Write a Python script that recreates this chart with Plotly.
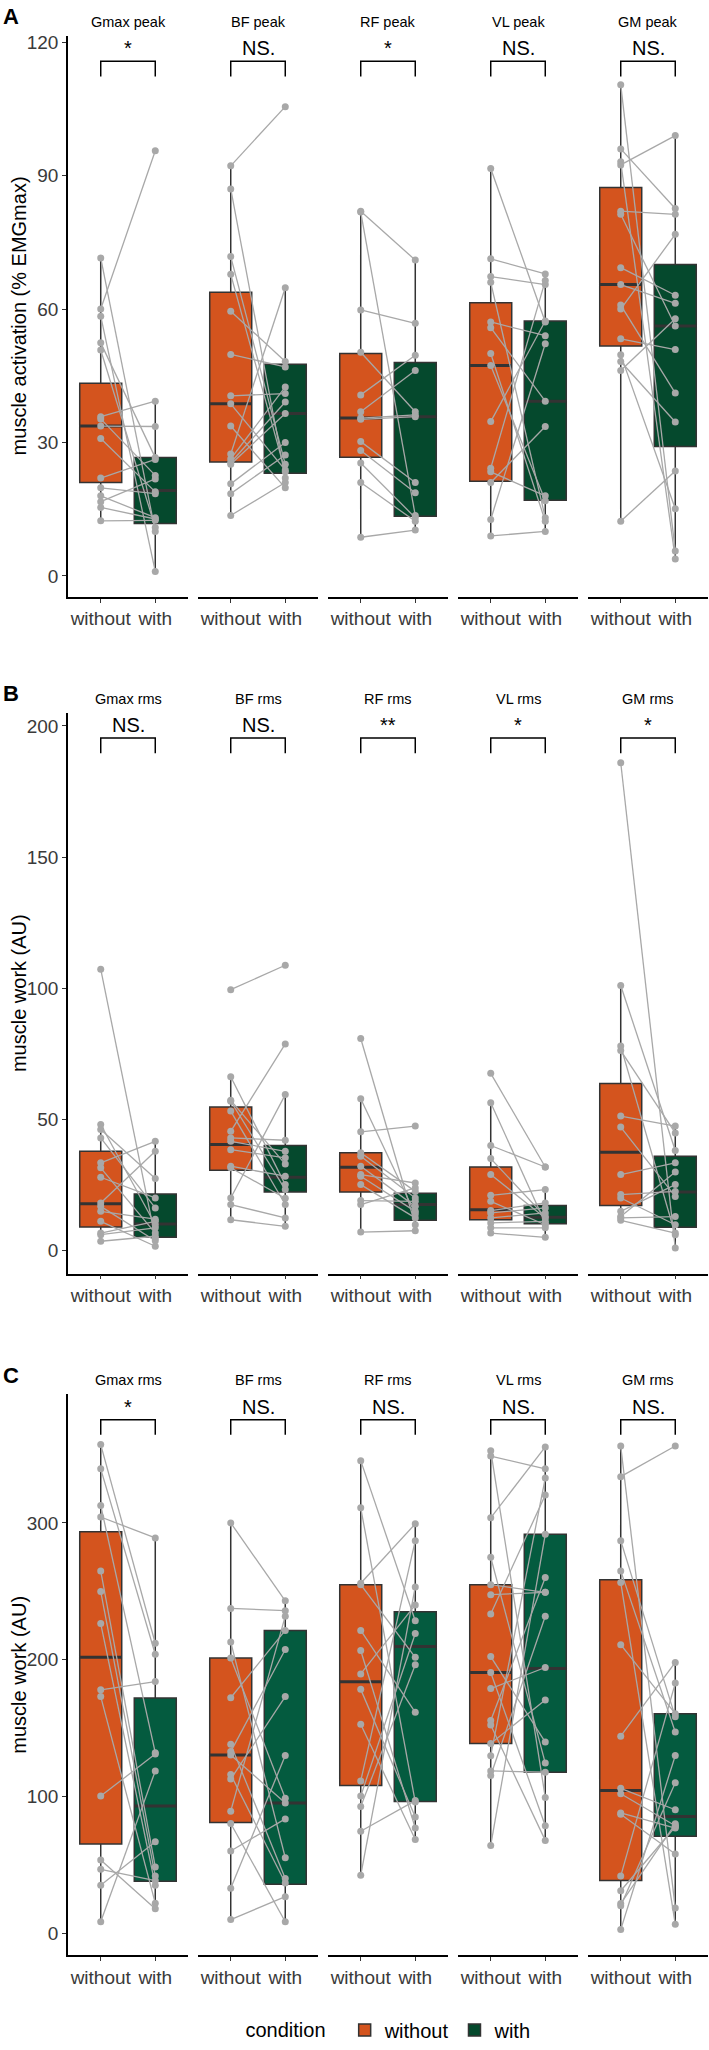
import plotly.graph_objects as go

# ---------------- data ----------------
conditions = ["without", "with"]
strip_A = ["Gmax peak", "BF peak", "RF peak", "VL peak", "GM peak"]
strip_B = ["Gmax rms", "BF rms", "RF rms", "VL rms", "GM rms"]
strip_C = ["Gmax rms", "BF rms", "RF rms", "VL rms", "GM rms"]

sig_A = ["*", "NS.", "*", "NS.", "NS."]
sig_B = ["NS.", "NS.", "**", "*", "*"]
sig_C = ["*", "NS.", "NS.", "NS.", "NS."]

y_title_A = "muscle activation (% EMGmax)"
y_title_B = "muscle work (AU)"
y_title_C = "muscle work (AU)"

ticks_A = [0, 30, 60, 90, 120]
ticks_B = [0, 50, 100, 150, 200]
ticks_C = [0, 100, 200, 300]

# paired subject values (index i of "without" pairs with index i of "with")
A_without = [
    [71.5, 60.0, 58.4, 52.4, 50.8, 35.8, 35.3, 33.7, 30.9, 22.0, 19.8, 18.0, 16.7, 15.4, 12.4],
    [92.2, 87.0, 71.8, 67.8, 59.5, 49.8, 40.5, 38.7, 33.7, 27.4, 26.3, 25.5, 25.1, 20.7, 18.5, 13.6],
    [82.0, 81.8, 59.8, 50.3, 40.7, 36.9, 35.5, 35.2, 30.2, 28.2, 25.4, 21.0, 8.7],
    [91.6, 71.3, 67.3, 66.0, 57.1, 55.8, 50.0, 47.3, 34.7, 24.2, 23.4, 21.0, 12.7, 9.0],
    [110.4, 96.0, 93.1, 92.4, 82.0, 81.3, 69.3, 65.5, 60.9, 60.0, 53.3, 49.7, 48.2, 46.2, 12.3],
]
A_with = [
    [10.0, 95.6, 1.0, 26.6, 10.9, 39.3, 22.6, 33.6, 18.9, 26.2, 18.5, 13.1, 21.8, 12.8, 12.5],
    [105.5, 22.0, 25.1, 23.4, 48.2, 47.0, 41.0, 23.8, 19.8, 64.8, 42.5, 39.1, 36.5, 30.0, 27.2, 21.0],
    [71.0, 13.6, 56.8, 36.9, 49.6, 46.2, 36.2, 35.8, 21.0, 18.7, 13.1, 12.3, 10.3],
    [57.1, 67.9, 65.5, 13.1, 54.0, 39.3, 12.3, 16.9, 57.3, 66.4, 18.0, 33.6, 52.2, 10.0],
    [5.6, 82.6, 3.8, 99.0, 81.3, 56.2, 63.1, 61.3, 41.1, 76.8, 50.9, 15.1, 34.6, 57.8, 23.6],
]
B_without = [
    [107.3, 48.1, 46.2, 43.0, 33.5, 31.6, 28.0, 18.2, 16.9, 15.0, 11.2, 6.7, 6.1, 3.6],
    [99.5, 66.3, 57.3, 57.0, 53.2, 45.5, 43.0, 41.7, 38.5, 32.2, 31.6, 20.1, 17.6, 11.8],
    [80.9, 57.9, 45.3, 37.3, 36.0, 32.2, 29.0, 28.4, 25.2, 19.1, 17.6, 7.1],
    [67.6, 56.4, 40.1, 35.1, 29.0, 21.1, 18.8, 15.3, 14.4, 12.5, 10.6, 8.7, 6.7],
    [186.0, 101.1, 78.0, 76.3, 51.3, 47.1, 29.0, 21.4, 20.1, 15.0, 13.0, 12.5, 11.6],
]
B_with = [
    [4.8, 9.9, 27.5, 16.3, 41.7, 6.7, 20.1, 37.9, 3.8, 12.0, 1.7, 11.2, 8.7, 5.5],
    [108.8, 25.2, 33.0, 23.3, 17.6, 78.8, 42.1, 37.9, 35.4, 28.4, 20.0, 59.5, 12.5, 9.3],
    [9.9, 14.0, 47.5, 22.6, 20.1, 16.9, 25.8, 15.0, 12.5, 18.8, 23.9, 7.6],
    [31.9, 10.5, 31.9, 13.0, 12.5, 23.3, 9.9, 18.2, 16.3, 14.4, 11.2, 8.7, 5.1],
    [1.0, 38.2, 6.1, 44.9, 47.5, 20.7, 33.5, 22.6, 9.9, 25.2, 30.0, 13.0, 6.7],
]
C_without = [
    [357.2, 339.5, 312.7, 304.3, 264.9, 249.8, 226.4, 178.0, 173.0, 100.3, 53.5, 46.8, 35.1, 8.4],
    [300.0, 237.5, 213.0, 201.3, 172.2, 138.1, 132.8, 130.4, 116.0, 112.7, 89.3, 80.3, 60.2, 33.0, 10.0],
    [345.5, 311.0, 255.9, 254.8, 221.4, 206.7, 189.6, 178.3, 152.8, 111.4, 100.3, 92.6, 74.6, 42.5],
    [352.8, 348.8, 303.7, 274.9, 254.8, 247.5, 233.4, 202.3, 190.6, 178.9, 155.5, 152.2, 138.8, 129.8, 118.7, 115.4, 64.2],
    [356.2, 333.8, 287.0, 264.9, 256.5, 211.0, 144.1, 106.0, 102.0, 88.0, 87.0, 41.8, 31.1, 21.7, 20.1, 2.7],
]
C_with = [
    [212.0, 204.0, 132.0, 289.0, 48.5, 41.8, 35.1, 184.0, 22.0, 131.0, 18.0, 38.5, 66.9, 118.7],
    [243.0, 235.8, 55.2, 98.7, 221.4, 40.1, 207.4, 95.3, 36.8, 173.0, 231.8, 8.4, 83.6, 130.0, 26.8],
    [228.4, 96.0, 299.3, 201.7, 161.5, 76.9, 240.0, 85.0, 68.6, 287.0, 219.1, 196.3, 97.0, 253.2],
    [99.3, 339.5, 355.5, 124.4, 249.2, 249.2, 320.4, 139.8, 78.6, 194.3, 260.0, 67.9, 170.6, 332.8, 117.7, 231.8, 291.6],
    [18.4, 356.2, 158.2, 147.2, 6.7, 160.5, 198.0, 90.3, 78.6, 76.9, 57.9, 182.9, 77.9, 80.0, 110.0, 130.0],
]

# box statistics: [q1, median, q3, lower whisker, upper whisker]
A_box_without = [[21.0, 33.7, 43.3, 12.4, 71.5], [25.6, 38.7, 63.8, 13.6, 92.2], [26.7, 35.5, 50.0, 8.7, 81.8],
                 [21.3, 47.3, 61.4, 9.0, 91.6], [51.7, 65.5, 87.3, 12.3, 110.4]]
A_box_with = [[11.8, 19.2, 26.6, 1.0, 39.3], [23.1, 36.5, 47.6, 19.8, 64.8], [13.4, 35.8, 48.0, 10.3, 71.0],
              [17.0, 39.3, 57.3, 10.0, 67.9], [29.1, 56.2, 70.0, 3.8, 99.0]]
B_box_without = [[9.0, 17.9, 37.9, 3.6, 48.1], [30.7, 40.5, 54.8, 11.8, 66.3], [22.4, 31.8, 37.3, 7.1, 57.9],
                 [11.8, 15.6, 31.9, 6.7, 56.4], [17.2, 37.5, 63.7, 11.6, 101.1]]
B_box_with = [[5.1, 10.2, 21.6, 1.7, 41.7], [22.4, 28.0, 40.1, 9.3, 59.5], [11.6, 17.6, 21.9, 7.6, 25.8],
              [10.3, 12.7, 17.2, 5.1, 23.3], [8.9, 22.4, 36.0, 1.0, 47.5]]
C_box_without = [[65.2, 201.7, 293.6, 8.4, 357.2], [81.0, 130.4, 201.3, 10.0, 300.0], [108.0, 183.9, 254.8, 42.5, 345.5],
                 [138.8, 190.6, 254.8, 64.2, 352.8], [38.5, 104.3, 258.5, 2.7, 356.2]]
C_box_with = [[38.0, 93.0, 172.0, 18.0, 289.0], [35.8, 95.3, 221.4, 8.4, 243.0], [96.3, 209.7, 235.1, 68.6, 299.3],
              [117.7, 193.6, 291.6, 67.9, 355.5], [70.9, 85.3, 160.5, 6.7, 198.0]]

# significance bracket levels [bottom, top]
bracket_A = [112.3, 115.7]
bracket_B = [189.6, 195.4]
bracket_C = [364.5, 375.3]

# ---------------- styling / layout ----------------
W, H = 709, 2050
FONT = "Liberation Sans, Arial, sans-serif"
ORANGE = "#D4541E"
GREENS = ["#05492D", "#05492D", "#045B3F"]
GREY = "#A8A8A8"
DARK = "#333333"
BOX_W = 0.77

panels = [
    dict(letter="A", strips=strip_A, sig=sig_A, ytitle=y_title_A, ticks=ticks_A,
         wo=A_without, wi=A_with, bwo=A_box_without, bwi=A_box_with, br=bracket_A,
         yr=[-4.7, 121.4], top=32, bot=594),
    dict(letter="B", strips=strip_B, sig=sig_B, ytitle=y_title_B, ticks=ticks_B,
         wo=B_without, wi=B_with, bwo=B_box_without, bwi=B_box_with, br=bracket_B,
         yr=[-8.7, 205.1], top=710, bot=1272),
    dict(letter="C", strips=strip_C, sig=sig_C, ytitle=y_title_C, ticks=ticks_C,
         wo=C_without, wi=C_with, bwo=C_box_without, bwi=C_box_with, br=bracket_C,
         yr=[-16.0, 394.0], top=1393, bot=1955),
]


def py(px):
    return 1 - px / H


def px_x(px):
    return px / W


fig = go.Figure()
layout = dict(width=W, height=H, margin=dict(l=0, r=0, t=0, b=0),
              paper_bgcolor="white", plot_bgcolor="white",
              font=dict(family=FONT, color="black"),
              showlegend=True)
annotations = []
shapes = []

for r, p in enumerate(panels):
    green = GREENS[r]
    for c in range(5):
        k = r * 5 + c + 1
        xa = "x" if k == 1 else f"x{k}"
        ya = "y" if k == 1 else f"y{k}"
        left = 68 + 130 * c
        right = left + 120
        layout["xaxis" if k == 1 else f"xaxis{k}"] = dict(
            domain=[px_x(left), px_x(right)], range=[0.4, 2.6], anchor=ya,
            tickvals=[1, 2], ticktext=conditions, showline=True, linecolor="black",
            linewidth=1.5, ticks="outside", ticklen=4, tickwidth=1.3, tickcolor=DARK,
            tickfont=dict(size=19, color="#3a3a3a", family=FONT), showgrid=False,
            zeroline=False, fixedrange=True)
        first = c == 0
        layout["yaxis" if k == 1 else f"yaxis{k}"] = dict(
            domain=[py(p["bot"]), py(p["top"])], range=p["yr"], anchor=xa,
            tickvals=p["ticks"] if first else [], showline=first, linecolor="black",
            linewidth=1.5, ticks="outside" if first else "", ticklen=4, tickwidth=1.3,
            tickcolor=DARK, showticklabels=first,
            tickfont=dict(size=19, color="#3a3a3a", family=FONT), showgrid=False,
            zeroline=False, fixedrange=True)

        # boxes
        for pos, stats, col, name in [(1, p["bwo"][c], ORANGE, "without"), (2, p["bwi"][c], green, "with")]:
            q1, med, q3, lo, hi = stats
            fig.add_trace(go.Box(
                x=[pos], q1=[q1], median=[med], q3=[q3], lowerfence=[lo], upperfence=[hi],
                orientation="v", width=BOX_W, fillcolor=col, line=dict(color=DARK, width=1.5),
                whiskerwidth=0, boxpoints=False, name=name, legendgroup=name,
                showlegend=(k == 1), hoverinfo="skip", xaxis=xa, yaxis=ya))
            fig.add_trace(go.Scatter(
                x=[pos - BOX_W / 2, pos + BOX_W / 2], y=[med, med], mode="lines",
                line=dict(color=DARK, width=3), showlegend=False, hoverinfo="skip",
                xaxis=xa, yaxis=ya))

        # paired lines and points
        xs, ys = [], []
        for a, b in zip(p["wo"][c], p["wi"][c]):
            xs += [1, 2, None]
            ys += [a, b, None]
        fig.add_trace(go.Scatter(
            x=xs, y=ys, mode="lines+markers", line=dict(color=GREY, width=1.3),
            marker=dict(color=GREY, size=7), showlegend=False, hoverinfo="skip",
            connectgaps=False, xaxis=xa, yaxis=ya))

        # significance bracket
        b0, b1 = p["br"]
        shapes.append(dict(type="path", xref=xa, yref=ya,
                           path=f"M 1,{b0} L 1,{b1} L 2,{b1} L 2,{b0}",
                           line=dict(color="black", width=1.5)))
        annotations.append(dict(xref=xa, yref=ya, x=1.5, y=b1, text=p["sig"][c],
                                showarrow=False, yanchor="bottom", yshift=0,
                                font=dict(size=20, color="black", family=FONT)))
        # strip label
        annotations.append(dict(xref="paper", yref="paper", x=px_x((left + right) / 2),
                                y=py(p["top"] - 14), text=p["strips"][c], showarrow=False,
                                xanchor="center", yanchor="middle",
                                font=dict(size=14.5, color="black", family=FONT)))

    # panel letter
    annotations.append(dict(xref="paper", yref="paper", x=px_x(1), y=py(p["top"] - 19),
                            text=f"<b>{p['letter']}</b>", showarrow=False, xanchor="left",
                            yanchor="middle", font=dict(size=22, color="black", family=FONT)))
    # y title
    annotations.append(dict(xref="paper", yref="paper", x=px_x(19), y=py((p["top"] + p["bot"]) / 2),
                            text=p["ytitle"], showarrow=False, textangle=-90, xanchor="center",
                            yanchor="middle", font=dict(size=20, color="black", family=FONT)))

layout["annotations"] = annotations
layout["shapes"] = shapes
layout["legend"] = dict(orientation="h", x=px_x(390), xanchor="center", y=py(2030), yanchor="middle",
                        title=dict(text="condition  ", side="left", font=dict(size=20)),
                        font=dict(size=20, family=FONT), itemwidth=30, bgcolor="rgba(0,0,0,0)")
fig.update_layout(**layout)
fig.write_html("out.html")
